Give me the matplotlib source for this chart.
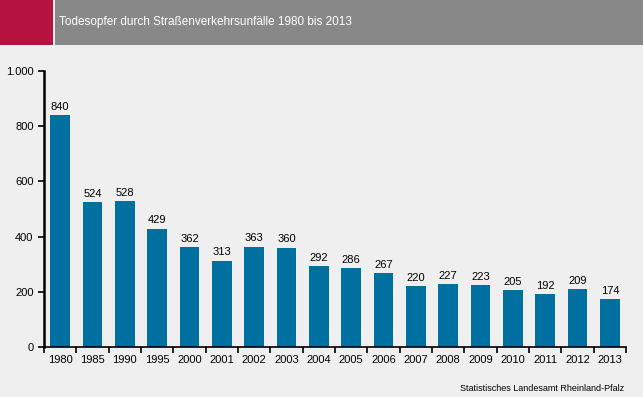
import matplotlib.pyplot as plt
from matplotlib.patches import Rectangle

# Verkehrstote Rheinland-Pfalz
years = ["1980", "1985", "1990", "1995", "2000", "2001", "2002", "2003", "2004",
         "2005", "2006", "2007", "2008", "2009", "2010", "2011", "2012", "2013"]
deaths = [840, 524, 528, 429, 362, 313, 363, 360, 292,
          286, 267, 220, 227, 223, 205, 192, 209, 174]
y_ticks = [0, 200, 400, 600, 800, 1000]
y_labels = ["0", "200", "400", "600", "800", "1.000"]

bg = "#eeefee"
bar_color = "#0070a0"

fig = plt.figure(figsize=(6.43, 3.97), dpi=100, facecolor=bg)

# --- header ---
fig.patches.append(Rectangle((0, 0.8866), 0.0824, 0.1134, transform=fig.transFigure,
                             facecolor="#b5123f", edgecolor="none"))
fig.patches.append(Rectangle((0.0855, 0.8866), 0.9145, 0.1134, transform=fig.transFigure,
                             facecolor="#888888", edgecolor="none"))
fig.text(0.091, 0.944, "Todesopfer durch Straßenverkehrsunfälle 1980 bis 2013",
         color="white", fontsize=8.5, va="center", ha="left",
         family=["Liberation Sans", "DejaVu Sans"])

# --- chart ---
ax = fig.add_axes([0.0684, 0.126, 0.9052, 0.6952])
ax.set_facecolor(bg)
x = list(range(len(years)))
bars = ax.bar(x, deaths, width=0.6, color=bar_color)

for xi, v in zip(x, deaths):
    ax.text(xi, v + 12, str(v), ha="center", va="bottom", fontsize=8,
            family=["Liberation Sans", "DejaVu Sans"])

ax.set_xlim(-0.5, len(years) - 0.5)
ax.set_ylim(0, 1000)
ax.set_yticks(y_ticks)
ax.set_yticklabels(y_labels, family=["Liberation Sans", "DejaVu Sans"], fontsize=8)
ax.set_xticks(x)
ax.set_xticklabels(years, family=["Liberation Sans", "DejaVu Sans"], fontsize=8)
ax.tick_params(axis="x", which="major", length=0, pad=6)
ax.set_xticks([i - 0.5 for i in range(len(years) + 1)], minor=True)
ax.tick_params(axis="x", which="minor", length=4, width=1.2, direction="out")
ax.tick_params(axis="y", length=4, width=1.2, direction="out")

for s in ["top", "right"]:
    ax.spines[s].set_visible(False)
ax.spines["left"].set_linewidth(1.8)
ax.spines["bottom"].set_linewidth(1.2)

fig.text(0.971, 0.022, "Statistisches Landesamt Rheinland-Pfalz", ha="right",
         va="center", fontsize=6.5, family=["Liberation Sans", "DejaVu Sans"])

fig.savefig("out.png", dpi=100, facecolor=bg)
